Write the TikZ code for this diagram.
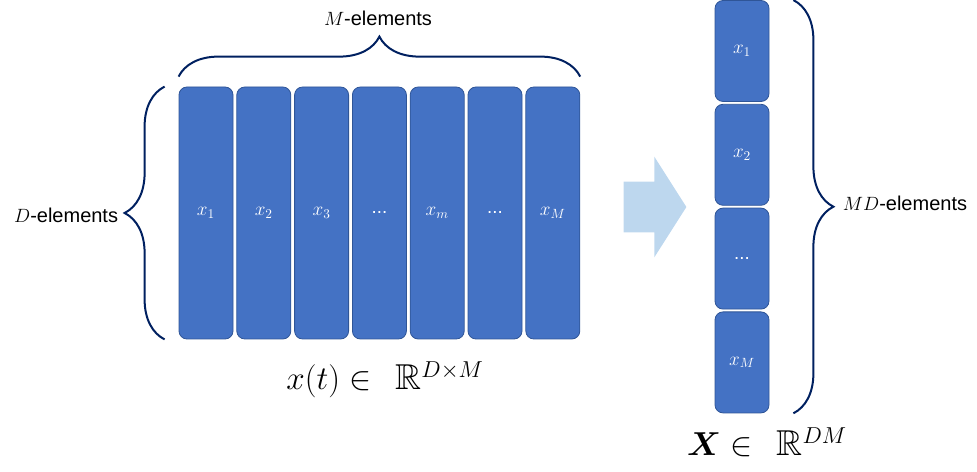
\documentclass[tikz,border=0pt]{standalone}
\usepackage{amsmath,amssymb}
\usepackage{fontspec}
\setmainfont{Liberation Sans}
\usetikzlibrary{positioning,shapes.arrows,decorations.pathreplacing}
\definecolor{cellblue}{HTML}{4472C4}
\definecolor{celledge}{HTML}{2F5597}
\definecolor{bracenavy}{HTML}{002060}
\definecolor{arrowblue}{HTML}{BDD7EE}

\begin{document}
\begin{tikzpicture}[x=0.75pt, y=0.75pt,
    cell/.style={rectangle, rounded corners=6pt, fill=cellblue, draw=celledge, line width=0.6pt,
                 minimum width=40.5pt, inner sep=0pt, text=white, font=\fontsize{14}{16}\selectfont},
    col/.style={cell, minimum height=189pt},
    vcell/.style={cell, minimum height=75.75pt},
    curly/.style={draw=bracenavy, line width=1.5pt, decorate, decoration={brace, amplitude=30pt}},
    lbl/.style={font=\fontsize{15}{18}\selectfont, inner sep=2pt},
    formula/.style={font=\fontsize{27}{32}\selectfont}
]
    \useasboundingbox (0,0) rectangle (977,471);

    \node[col] (c1) at (206,258) {$x_1$};
    \node[col, right=2.25pt of c1] (c2) {$x_2$};
    \node[col, right=2.25pt of c2] (c3) {$x_3$};
    \node[col, right=2.25pt of c3] (c4) {...};
    \node[col, right=2.25pt of c4] (c5) {$x_m$};
    \node[col, right=2.25pt of c5] (c6) {...};
    \node[col, right=2.25pt of c6] (c7) {$x_M$};

    \node[vcell] (r1) at (742,420) {$x_1$};
    \node[vcell, below=1.5pt of r1] (r2) {$x_2$};
    \node[vcell, below=1.5pt of r2] (r3) {...};
    \node[vcell, below=1.5pt of r3] (r4) {$x_M$};

    \draw[curly] ([yshift=7.5pt]c1.north west) -- ([yshift=7.5pt]c7.north east);
    \draw[curly] ([xshift=-10.5pt]c1.south west) -- ([xshift=-10.5pt]c1.north west);
    \draw[curly] ([xshift=18pt]r1.north east) -- ([xshift=18pt]r4.south east);

    \node[lbl] (mlbl) at (378,453) {$M$-elements};
    \node[lbl, anchor=east] (dlbl) at (121,256) {$D$-elements};
    \node[lbl, anchor=west] (mdlbl) at (840,268) {$MD$-elements};

    \node[single arrow, fill=arrowblue, inner xsep=0pt, inner ysep=18.75pt, minimum height=47pt,
          single arrow head extend=18.75pt, single arrow tip angle=115] (arrw) at (647,264) {};

    \node[formula] (xt) at (385,91) {$x(t) \in\;\, \mathbb{R}^{D\times M}$};
    \node[formula] (bigx) at (767,29) {$\boldsymbol{X} \in\;\, \mathbb{R}^{DM}$};
\end{tikzpicture}
\end{document}
